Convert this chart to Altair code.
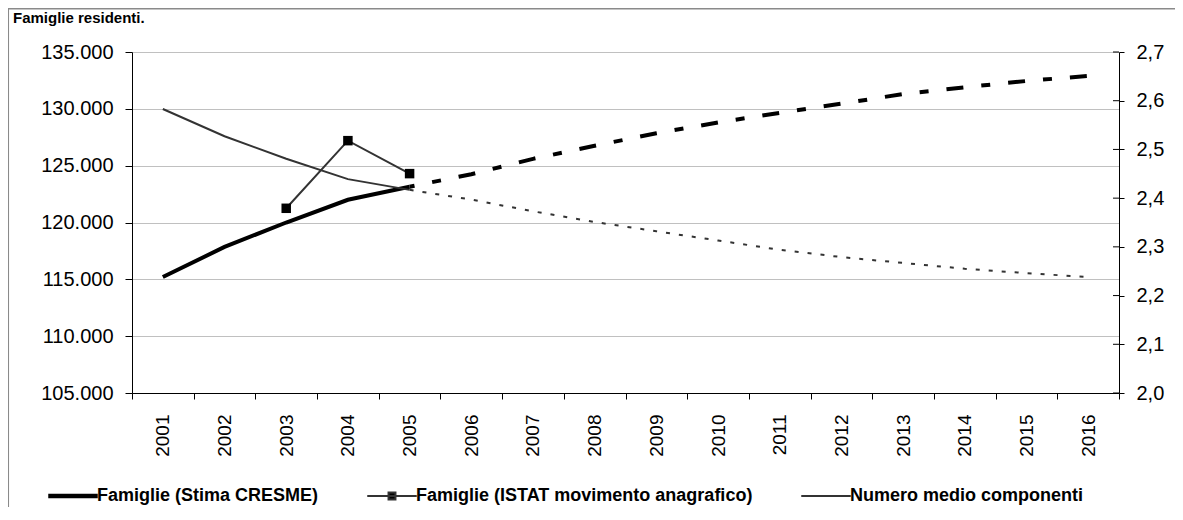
import altair as alt
import pandas as pd

# ---- data ----
years = ["2001", "2002", "2003", "2004", "2005", "2006", "2007", "2008",
         "2009", "2010", "2011", "2012", "2013", "2014", "2015", "2016"]
famiglie_cresme = [115200, 117850, 120000, 122000, 123150, 124250, 125600, 126750,
                   127850, 128800, 129650, 130450, 131300, 131900, 132450, 132900]
istat_years = ["2003", "2004", "2005"]
famiglie_istat = [121250, 127200, 124300]
componenti = [2.583, 2.527, 2.481, 2.439, 2.417, 2.397, 2.373, 2.351,
              2.332, 2.313, 2.294, 2.279, 2.267, 2.255, 2.246, 2.238]
left_ticks = [105000, 110000, 115000, 120000, 125000, 130000, 135000]
right_ticks = [2.0, 2.1, 2.2, 2.3, 2.4, 2.5, 2.6, 2.7]
last_observed = "2005"

S_CRESME = "Famiglie (Stima CRESME)"
S_ISTAT = "Famiglie (ISTAT movimento anagrafico)"
S_COMP = "Numero medio componenti"
series_names = [S_CRESME, S_ISTAT, S_COMP]

FONT = "Liberation Sans"
PLOT_W, PLOT_H = 987, 341

df_c = pd.DataFrame({"year": years, "value": famiglie_cresme, "series": S_CRESME})
df_i = pd.DataFrame({"year": istat_years, "value": famiglie_istat, "series": S_ISTAT})
df_n = pd.DataFrame({"year": years, "comp": componenti, "series": S_COMP})
df_rt = pd.DataFrame({"comp": right_ticks})

past_c = df_c[df_c["year"] <= last_observed]
proj_c = df_c[df_c["year"] >= last_observed]
past_n = df_n[df_n["year"] <= last_observed]
proj_n = df_n[df_n["year"] >= last_observed]

x_enc = alt.X(
    "year:O",
    bandPosition=0.5,
    scale=alt.Scale(type="band", domain=years, paddingInner=0, paddingOuter=0),
    axis=alt.Axis(
        title=None, labelAngle=270, labelAlign="right", labelBaseline="middle",
        labelFont=FONT, labelFontSize=19, labelColor="black", labelPadding=15,
        tickBand="extent", tickSize=6, tickColor="black", domainColor="black",
        grid=False,
    ),
)

y_left = alt.Y(
    "value:Q",
    scale=alt.Scale(domain=[105000, 135000], nice=False, zero=False),
    axis=alt.Axis(
        orient="left", title=None, values=left_ticks, format=",.0f",
        labelFont=FONT, labelFontSize=20, labelColor="black", labelPadding=12,
        tickSize=7, tickColor="black", domainColor="black",
        grid=True, gridColor="#c0c0c0", gridWidth=1,
    ),
)

y_right = alt.Y(
    "comp:Q",
    scale=alt.Scale(domain=[2.0, 2.7], nice=False, zero=False),
    axis=alt.Axis(
        orient="right", title=None, values=right_ticks, format=".1f",
        labelFont=FONT, labelFontSize=20, labelColor="black", labelPadding=12,
        tickSize=5, tickColor="black", domainColor="black", grid=False,
    ),
)

sym_width = ("datum.value === '%s' ? 4.5 : 2" % S_CRESME)
sym_shape = ("datum.value === '%s' ? 'M-1,0H1M-0.14,-0.14H0.14V0.14H-0.14Z' : 'stroke'" % S_ISTAT)

color_enc = alt.Color(
    "series:N",
    scale=alt.Scale(domain=series_names, range=["#000000", "#333333", "#333333"]),
    legend=alt.Legend(
        orient="none", legendX=-68, legendY=435, direction="horizontal",
        title=None, symbolType={"expr": sym_shape}, symbolSize=2450,
        symbolStrokeWidth={"expr": sym_width}, symbolFillColor="black",
        labelFont=FONT, labelFontSize=18, labelFontWeight="bold", labelColor="black",
        labelOffset=15, labelLimit=600, columnPadding=44,
    ),
)

frame_src = pd.DataFrame({"k": [0]})
frame_top = alt.Chart(frame_src).mark_rule(color="#8a8a8a", strokeWidth=1.5).encode(
    x=alt.value(-124), x2=alt.value(1100), y=alt.value(-43.3))
frame_left = alt.Chart(frame_src).mark_rule(color="#8a8a8a", strokeWidth=1.5).encode(
    x=alt.value(-123.7), y=alt.value(-44), y2=alt.value(500))
title_txt = alt.Chart(frame_src).mark_text(
    text="Famiglie residenti.", align="left", baseline="alphabetic",
    font=FONT, fontSize=15, fontWeight="bold", color="black",
).encode(x=alt.value(-119), y=alt.value(-29))

cresme_past = alt.Chart(past_c).mark_line(strokeWidth=4, strokeCap="butt").encode(
    x=x_enc, y=y_left, color=color_enc)
cresme_proj = alt.Chart(proj_c).mark_line(
    strokeWidth=4, strokeDash=[17, 18, 9, 18], strokeDashOffset=12, strokeCap="butt"
).encode(x=x_enc, y=y_left, color=color_enc)
istat_line = alt.Chart(df_i).mark_line(strokeWidth=2).encode(
    x=x_enc, y=y_left, color=color_enc)
istat_pts = alt.Chart(df_i).mark_point(
    shape="square", filled=True, size=90, color="black", opacity=1
).encode(x=x_enc, y=y_left)

comp_past = alt.Chart(past_n).mark_line(strokeWidth=2).encode(
    x=x_enc, y=y_right, color=color_enc)
comp_proj = alt.Chart(proj_n).mark_line(strokeWidth=2, strokeDash=[4, 9]).encode(
    x=x_enc, y=y_right, color=color_enc)
# inner half of the crossing tick marks on the right axis
right_inner_ticks = alt.Chart(df_rt).mark_rule(color="black", strokeWidth=1).encode(
    y=y_right, x=alt.value(PLOT_W - 6), x2=alt.value(PLOT_W))

left = alt.layer(frame_top, frame_left, title_txt,
                 cresme_past, cresme_proj, istat_line, istat_pts)
right = alt.layer(comp_past, comp_proj, right_inner_ticks)

chart = alt.layer(left, right).resolve_scale(y="independent").properties(
    width=PLOT_W, height=PLOT_H,
    autosize=alt.AutoSizeParams(type="none"),
    padding={"left": 124, "top": 44, "right": 56, "bottom": 114},
    background="white",
).configure(
    locale={"number": {"decimal": ",", "thousands": ".", "grouping": [3],
                       "currency": ["", " €"]}},
).configure_view(stroke=None)

chart.save("out.html", embed_options={"renderer": "svg", "actions": False})
